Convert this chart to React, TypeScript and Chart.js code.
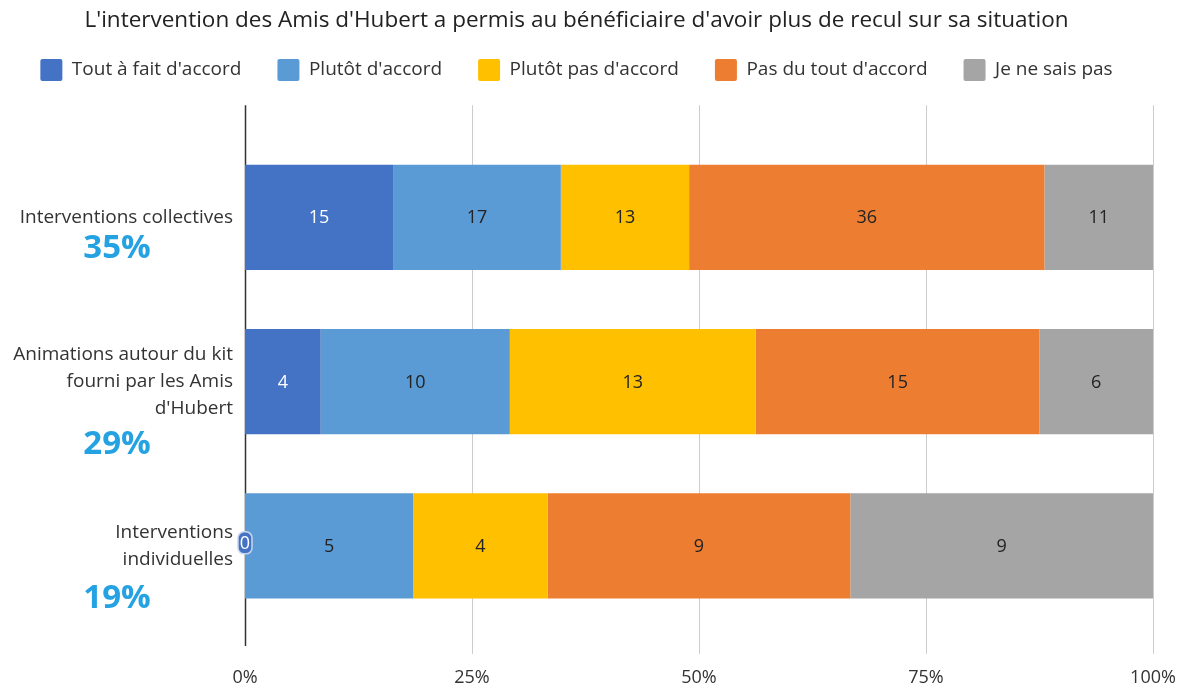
import React, { useEffect, useRef } from "react";
import { Chart, registerables } from "chart.js";

Chart.register(...registerables);

const titleText = "L'intervention des Amis d'Hubert a permis au bénéficiaire d'avoir plus de recul sur sa situation";
const categories: string[][] = [
  ["Interventions collectives"],
  ["Animations autour du kit", "fourni par les Amis", "d'Hubert"],
  ["Interventions", "individuelles"],
];
const categoryPercents = ["35%", "29%", "19%"];
const seriesNames = [
  "Tout à fait d'accord",
  "Plutôt d'accord",
  "Plutôt pas d'accord",
  "Pas du tout d'accord",
  "Je ne sais pas",
];
const toutAFaitDAccord = [15, 4, 0];
const plutotDAccord = [17, 10, 5];
const plutotPasDAccord = [13, 13, 4];
const pasDuToutDAccord = [36, 15, 9];
const jeNeSaisPas = [11, 6, 9];
const xTicks = [0, 25, 50, 75, 100];

const seriesValues = [toutAFaitDAccord, plutotDAccord, plutotPasDAccord, pasDuToutDAccord, jeNeSaisPas];
const seriesColors = ["#4472C4", "#5B9BD5", "#FFC000", "#ED7D31", "#A5A5A5"];
const labelColors = ["#ffffff", "#222222", "#222222", "#222222", "#222222"];
const pctOffsets = [31, 63, 53];

const FONT = "'Open Sans', 'Noto Sans', sans-serif";

export default function App() {
  const ref = useRef<HTMLCanvasElement | null>(null);
  useEffect(() => {
    if (!ref.current) return;
    const totals = categories.map((_, i) => seriesValues.reduce((s, arr) => s + arr[i], 0));
    const datasets = seriesValues.map((vals, si) => ({
      label: seriesNames[si],
      data: vals.map((v, i) => (v / totals[i]) * 100),
      raw: vals,
      backgroundColor: seriesColors[si],
      borderWidth: 0,
      barPercentage: 0.64,
      categoryPercentage: 1,
    }));

    const gridPlugin = {
      id: "grid",
      beforeDatasetsDraw(chart: any) {
        const { ctx, chartArea, scales } = chart;
        ctx.save();
        xTicks.forEach((v) => {
          const x = Math.round(scales.x.getPixelForValue(v)) + 0.5;
          ctx.beginPath();
          ctx.strokeStyle = v === 0 ? "#333333" : "#cccccc";
          ctx.lineWidth = v === 0 ? 1.5 : 1;
          ctx.moveTo(x, chartArea.top - 30);
          ctx.lineTo(x, chartArea.bottom + (v === 0 ? 18 : 26));
          ctx.stroke();
        });
        ctx.restore();
      },
      afterDatasetsDraw(chart: any) {
        const { ctx, scales } = chart;
        ctx.save();
        ctx.font = `18px ${FONT}`;
        ctx.textAlign = "center";
        ctx.textBaseline = "middle";
        chart.data.datasets.forEach((ds: any, si: number) => {
          const meta = chart.getDatasetMeta(si);
          meta.data.forEach((bar: any, i: number) => {
            const v = ds.raw[i];
            if (v === 0) {
              const bx = bar.base;
              const by = bar.y - 3;
              ctx.fillStyle = "#4472C4";
              ctx.strokeStyle = "#c9d6ee";
              ctx.lineWidth = 1.5;
              ctx.beginPath();
              (ctx as any).roundRect(bx - 7, by - 11, 14, 22, 6);
              ctx.fill();
              ctx.stroke();
              ctx.fillStyle = "#ffffff";
              ctx.fillText(String(v), bx, by + 1);
            } else {
              ctx.fillStyle = labelColors[si];
              ctx.fillText(String(v), (bar.x + bar.base) / 2, bar.y + 1);
            }
          });
        });
        ctx.font = `bold 33px ${FONT}`;
        ctx.fillStyle = "#25A2E1";
        categoryPercents.forEach((p, i) => {
          const y = scales.y.getPixelForValue(i) + pctOffsets[i];
          ctx.fillText(p, 117, y);
        });
        ctx.restore();
      },
    };

    const chart = new Chart(ref.current, {
      type: "bar",
      data: { labels: categories, datasets: datasets as any },
      options: {
        indexAxis: "y",
        animation: false,
        responsive: false,
        maintainAspectRatio: false,
        layout: { padding: { top: 0, right: 27, bottom: 0, left: 0 } },
        plugins: {
          title: {
            display: true,
            text: titleText,
            color: "#222222",
            font: { family: FONT, size: 22.5, weight: "normal" },
            padding: { top: 7, bottom: -11 },
          },
          subtitle: {
            display: true,
            text: "",
            weight: 500,
            font: { size: 1 },
            padding: { top: 0, bottom: 43 },
          } as any,
          legend: {
            display: true,
            position: "top",
            labels: {
              boxWidth: 22,
              boxHeight: 22,
              color: "#333333",
              font: { family: FONT, size: 19 },
              padding: 36,
              generateLabels(chart: any) {
                const items = Chart.defaults.plugins.legend.labels.generateLabels(chart);
                return items.map((it: any) => ({ ...it, lineWidth: 0, borderRadius: 2 }));
              },
            },
          },
          tooltip: { enabled: false },
        },
        scales: {
          x: {
            stacked: true,
            min: 0,
            max: 100,
            afterBuildTicks(scale: any) {
              scale.ticks = xTicks.map((v) => ({ value: v }));
            },
            afterFit(scale: any) {
              scale.height = 57;
              scale.paddingLeft = 0;
              scale.paddingRight = 0;
            },
            grid: { display: false, drawTicks: false },
            border: { display: false },
            ticks: {
              padding: 39,
              maxRotation: 0,
              color: "#333333",
              font: { family: FONT, size: 18 },
              callback: (v: any) => `${v}%`,
            },
          },
          y: {
            stacked: true,
            afterFit(scale: any) {
              scale.width = 245;
            },
            grid: { display: false, drawTicks: false },
            border: { display: false },
            ticks: {
              padding: 12,
              color: "#333333",
              font: { family: FONT, size: 19, lineHeight: 1.4 },
            },
          },
        },
      },
      plugins: [gridPlugin],
    });
    return () => chart.destroy();
  }, []);

  return (
    <div style={{ position: "absolute", left: 0, top: 0, width: 1180, height: 685, background: "#ffffff" }}>
      <canvas ref={ref} width={1180} height={685} />
    </div>
  );
}
